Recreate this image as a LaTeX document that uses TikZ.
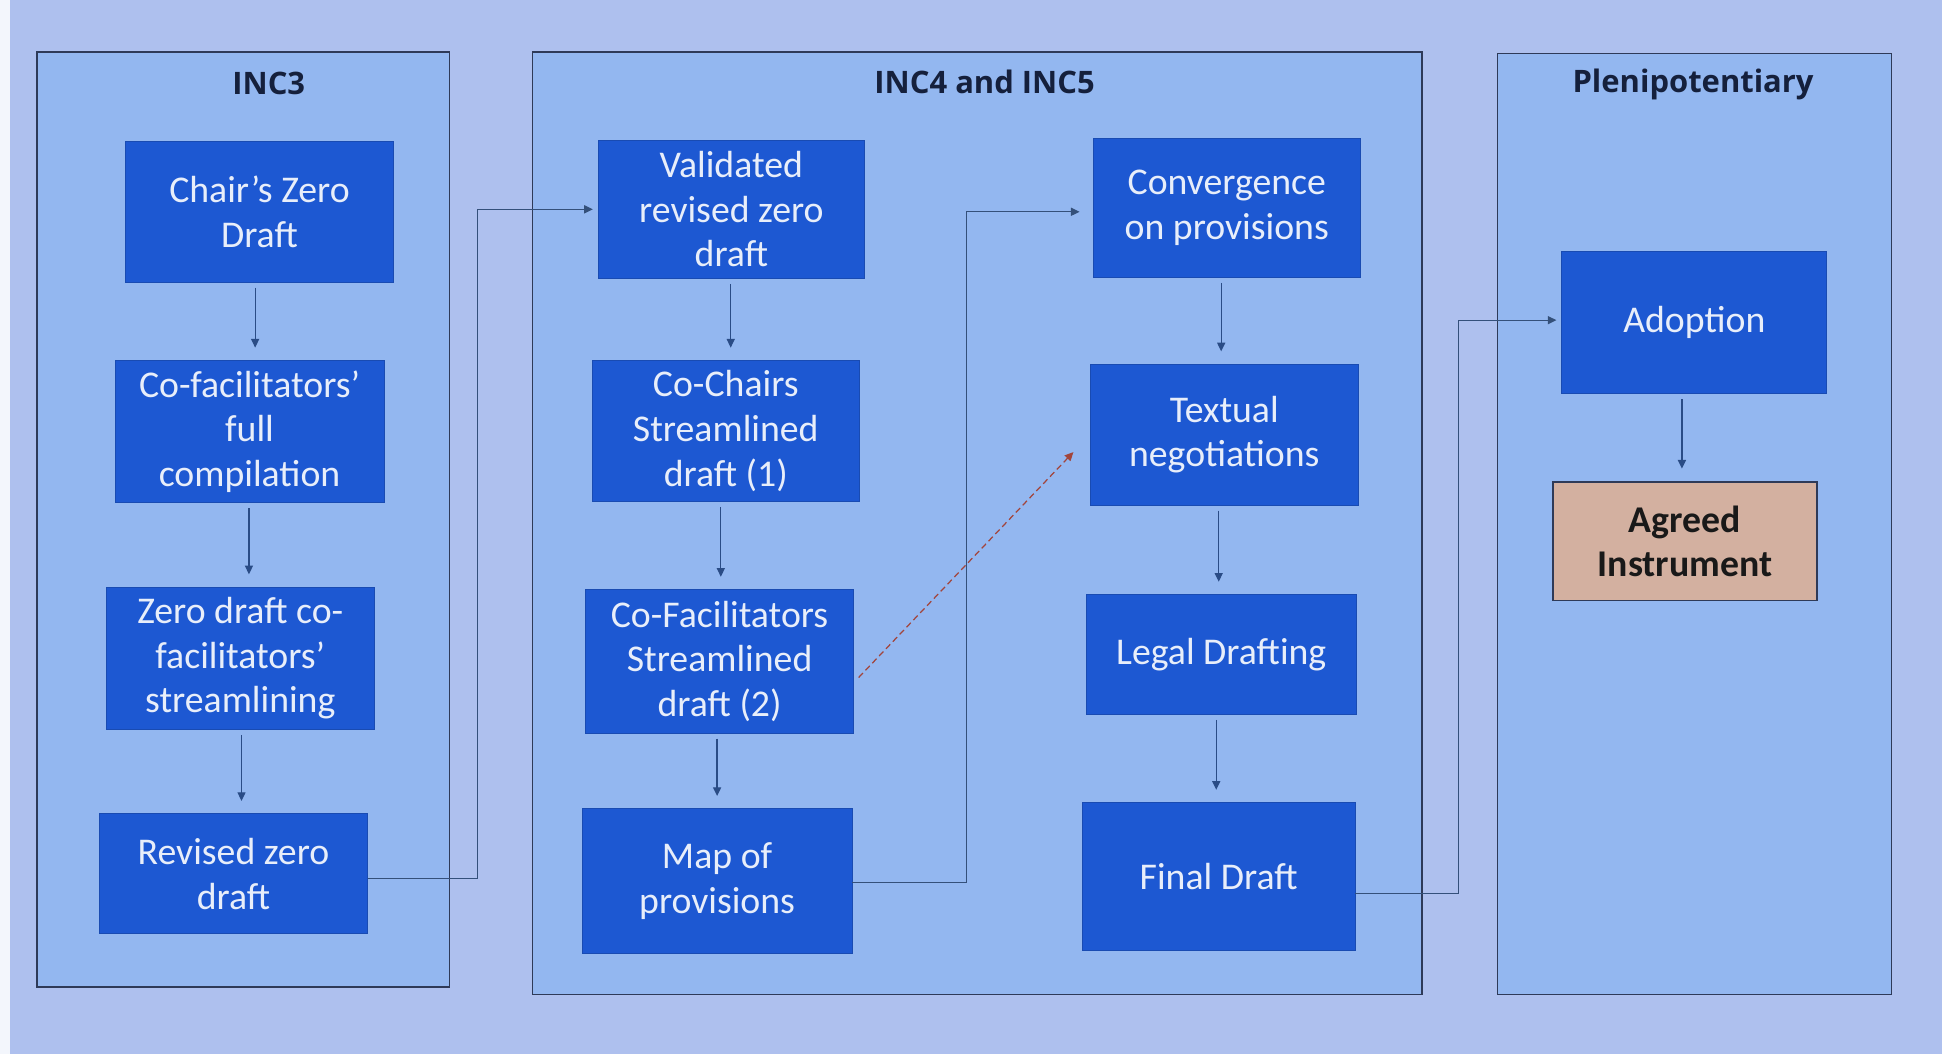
\documentclass[tikz,border=0pt]{standalone}
\usepackage{fontspec}
\setmainfont{Carlito}
\newfontfamily\titlefont{Open Sans}
\usetikzlibrary{arrows.meta}
\definecolor{bgc}{HTML}{AEC0EE}
\definecolor{panelfill}{HTML}{93B7F0}
\definecolor{panelline}{HTML}{2E3A58}
\definecolor{boxc}{HTML}{1D58D2}
\definecolor{boxtext}{HTML}{E8EEFA}
\definecolor{titlec}{HTML}{15203C}
\definecolor{agreedc}{HTML}{D3B0A0}
\definecolor{arrowc}{HTML}{2A4C86}
\definecolor{elbowc}{HTML}{34507A}
\definecolor{dashc}{HTML}{A2453C}
\begin{document}
\begin{tikzpicture}[x=1pt,y=-1pt,
  panel/.style={draw=panelline, line width=1.2pt, fill=panelfill, inner sep=0pt},
  title/.style={font=\titlefont\bfseries\fontsize{25}{29}\selectfont, text=titlec, inner sep=0pt},
  box/.style={fill=boxc, draw=boxc!85!black, line width=0.6pt, text=boxtext, align=center, inner sep=0pt,
    font=\fontsize{30.5}{36}\selectfont},
  agreed/.style={fill=agreedc, draw=panelline, line width=1.2pt, text=black!90, align=center, inner sep=0pt,
    font=\bfseries\fontsize{30.5}{36}\selectfont},
  flow/.style={draw=arrowc, line width=1pt, -{Triangle[length=7pt,width=6.5pt]}, shorten <=4pt, shorten >=10pt},
  elbow/.style={draw=elbowc, line width=1pt, -{Triangle[length=7pt,width=6.5pt]}, shorten >=4pt},
  dasharrow/.style={draw=dashc, line width=1pt, dash pattern=on 5pt off 3pt, -{Triangle[length=7pt,width=6.5pt]}}]
\useasboundingbox (0,0) rectangle (1568,851);
\fill[bgc] (0,0) rectangle (1568,851);
\fill[white!85!bgc] (0,0) rectangle (8,851);

% panels
\node[panel, minimum width=333pt, minimum height=755pt] (p1) at (196.5,419.5) {};
\node[panel, minimum width=718pt, minimum height=761pt] (p2) at (789,422.5) {};
\node[panel, minimum width=318pt, minimum height=760pt] (p3) at (1368,423) {};

% titles
\node[title] (t1) at (217,67) {INC3};
\node[title] (t2) at (795,66) {INC4 and INC5};
\node[title] (t3) at (1367,68) {Plenipotentiary};

% INC3 column
\node[box, minimum width=217pt, minimum height=114pt] (czd) at (209.5,171) {Chair’s Zero\\Draft};
\node[box, minimum width=217pt, minimum height=115pt] (cfc) at (201.5,348.5) {Co-facilitators’\\full\\compilation};
\node[box, minimum width=216pt, minimum height=115pt] (zds) at (194,531.5) {Zero draft co-\\facilitators’\\streamlining};
\node[box, minimum width=217pt, minimum height=97pt] (rzd) at (188.5,705.5) {Revised zero\\draft};

% INC4/5 left column
\node[box, minimum width=215pt, minimum height=112pt] (vrz) at (590.5,169) {Validated\\revised zero\\draft};
\node[box, minimum width=216pt, minimum height=114pt] (ccs) at (586,348) {Co-Chairs\\Streamlined\\draft (1)};
\node[box, minimum width=216pt, minimum height=116pt] (cfs) at (581,534) {Co-Facilitators\\Streamlined\\draft (2)};
\node[box, minimum width=218pt, minimum height=117pt] (map) at (579,711.5) {Map of\\provisions};

% INC4/5 right column
\node[box, minimum width=215pt, minimum height=112pt] (cop) at (990.5,168) {Convergence\\on provisions};
\node[box, minimum width=217pt, minimum height=114pt] (txn) at (988.5,351) {Textual\\negotiations};
\node[box, minimum width=218pt, minimum height=97pt] (lgd) at (986,528.5) {Legal Drafting};
\node[box, minimum width=220pt, minimum height=119pt] (fnd) at (984,707.5) {Final Draft};

% Plenipotentiary
\node[box, minimum width=214pt, minimum height=115pt] (adp) at (1368,260.5) {Adoption};
\node[agreed, minimum width=213pt, minimum height=96pt] (agi) at (1360.5,437) {Agreed\\Instrument};

% start points of vertical arrows
\coordinate (s1) at ([xshift=-3.5pt]czd.south);
\coordinate (s2) at ([xshift=-0.5pt]cfc.south);
\coordinate (s3) at ([xshift=1pt]zds.south);
\coordinate (s4) at ([xshift=-0.5pt]vrz.south);
\coordinate (s5) at ([xshift=-4pt]ccs.south);
\coordinate (s6) at ([xshift=-2pt]cfs.south);
\coordinate (s7) at ([xshift=-4.5pt]cop.south);
\coordinate (s8) at ([xshift=-4.5pt]txn.south);
\coordinate (s9) at ([xshift=-4pt]lgd.south);
\coordinate (s10) at ([xshift=-10pt]adp.south);

% vertical arrows
\draw[flow] (s1) -- (s1 |- cfc.north);
\draw[flow] (s2) -- (s2 |- zds.north);
\draw[flow] (s3) -- (s3 |- rzd.north);
\draw[flow] (s4) -- (s4 |- ccs.north);
\draw[flow] (s5) -- (s5 |- cfs.north);
\draw[flow] (s6) -- (s6 |- map.north);
\draw[flow] (s7) -- (s7 |- txn.north);
\draw[flow] (s8) -- (s8 |- lgd.north);
\draw[flow] (s9) -- (s9 |- fnd.north);
\draw[flow] (s10) -- (s10 |- agi.north);

% elbow connectors
\draw[elbow] ([yshift=-4pt]rzd.east) -- ++(88,0) |- (vrz.west);
\draw[elbow, shorten >=11pt] ([yshift=-1pt]map.east) -- ++(92,0) |- ([yshift=-3pt]cop.west);
\draw[elbow] ([yshift=-14pt]fnd.east) -- ++(83,0) |- ([yshift=2pt]adp.west);

% dashed connector
\draw[dasharrow] ([xshift=4pt,yshift=-13pt]cfs.east) -- ([xshift=-13pt,yshift=-14pt]txn.west);
\end{tikzpicture}
\end{document}
